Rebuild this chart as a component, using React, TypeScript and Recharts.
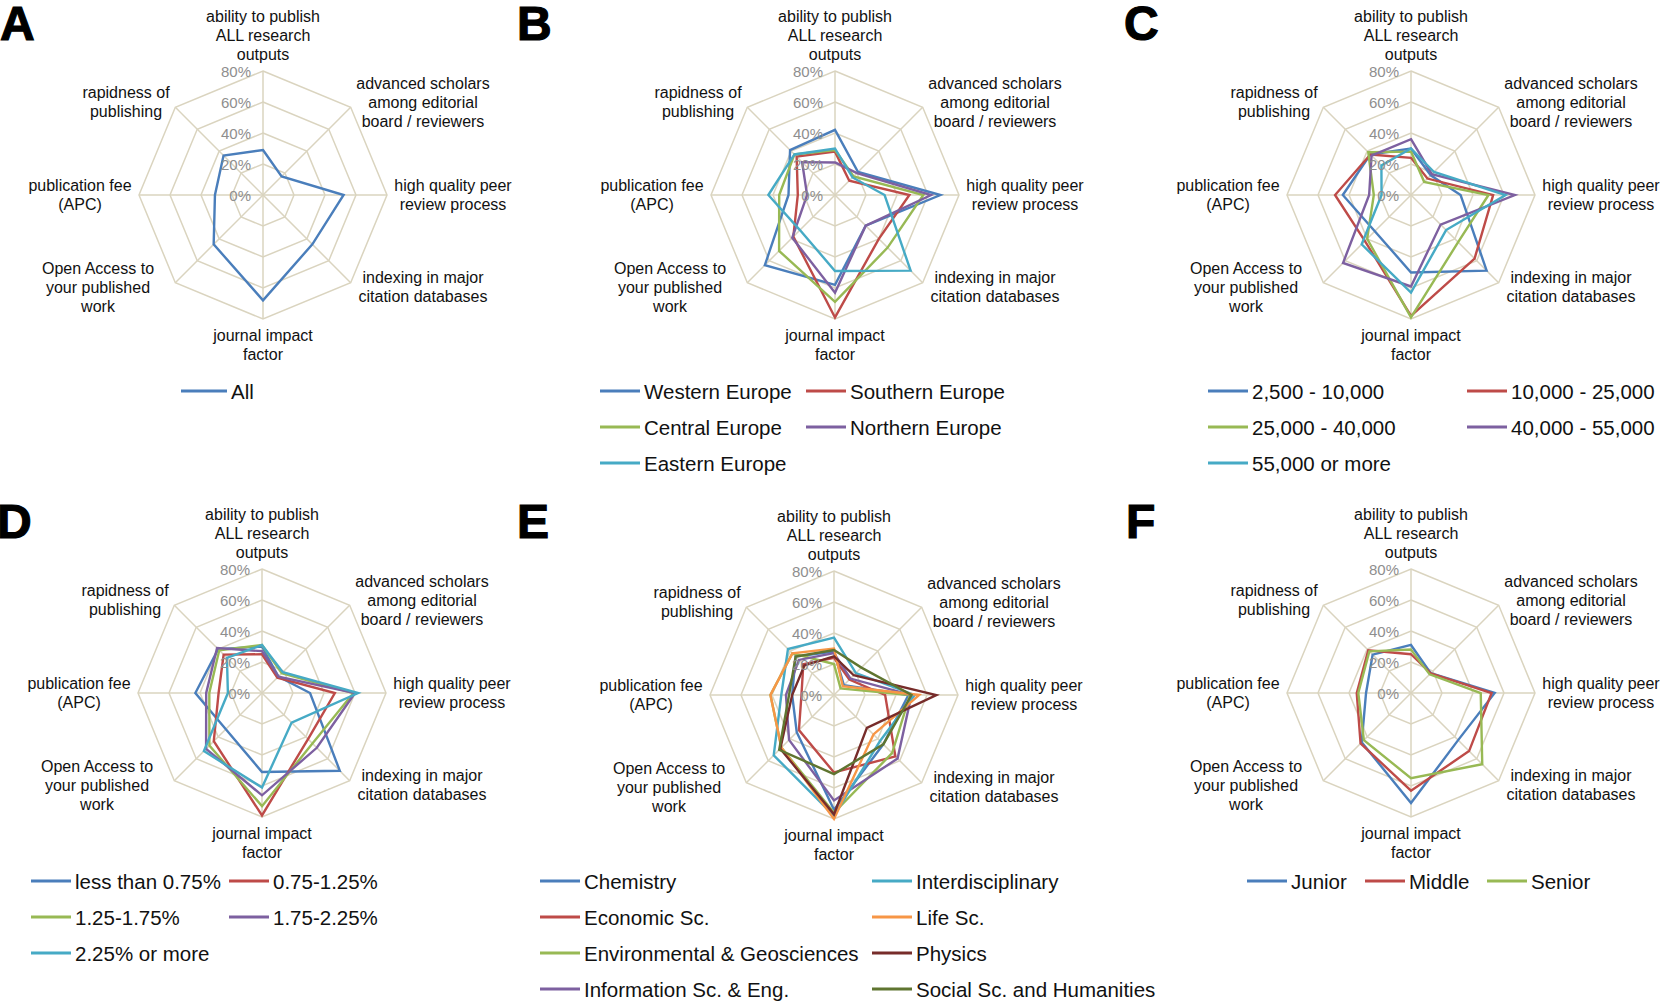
import React from 'react';
import {
    RadarChart,
    Radar,
    PolarGrid,
    PolarAngleAxis,
    PolarRadiusAxis,
} from 'recharts';

// axis order: clockwise from the top
const categories = [
    'ability to publish ALL research outputs',
    'advanced scholars among editorial board / reviewers',
    'high quality peer review process',
    'indexing in major citation databases',
    'journal impact factor',
    'Open Access to your published work',
    'publication fee (APC)',
    'rapidness of publishing',
];

const categoryLines = [
    ['ability to publish', 'ALL research', 'outputs'],
    ['advanced scholars', 'among editorial', 'board / reviewers'],
    ['high quality peer', 'review process'],
    ['indexing in major', 'citation databases'],
    ['journal impact', 'factor'],
    ['Open Access to', 'your published', 'work'],
    ['publication fee', '(APC)'],
    ['rapidness of', 'publishing'],
];

const radiusTicks = [0, 20, 40, 60, 80];

// A - all respondents
const allRespondents = [29, 17, 52, 45, 68, 45, 31, 36];

// B - region
const westernEurope = [42, 21, 68, 28, 58, 64, 30, 41];
const southernEurope = [28, 13, 48, 40, 79, 38, 24, 35];
const centralEurope = [29, 17, 57, 48, 69, 51, 36, 37];
const northernEurope = [21, 20, 62, 28, 63, 39, 18, 30];
const easternEurope = [30, 16, 32, 69, 49, 32, 43, 37];

// C - GDP per capita
const gdp2500 = [30, 18, 32, 69, 50, 33, 44, 37];
const gdp10000 = [24, 15, 53, 58, 78, 42, 49, 37];
const gdp25000 = [28, 12, 50, 43, 79, 40, 24, 39];
const gdp40000 = [36, 19, 67, 27, 59, 62, 27, 36];
const gdp55000 = [30, 21, 61, 32, 63, 45, 19, 27];

// D - R&D expenditure
const rdLess075 = [30, 15, 31, 71, 51, 33, 43, 40];
const rd075 = [25, 14, 47, 42, 79, 44, 28, 35];
const rd125 = [31, 18, 59, 46, 73, 48, 34, 39];
const rd175 = [27, 15, 60, 50, 66, 51, 36, 41];
const rd225 = [31, 19, 62, 27, 61, 53, 22, 32];

// E - discipline
const chemistry = [28, 9, 48, 45, 74, 34, 27, 35];
const economicSc = [24, 14, 33, 56, 50, 32, 21, 28];
const environmental = [20, 6, 49, 53, 76, 48, 41, 38];
const informationSc = [27, 15, 50, 58, 68, 41, 31, 32];
const interdisciplinary = [37, 20, 52, 42, 78, 55, 34, 42];
const lifeSc = [30, 8, 55, 36, 80, 48, 41, 38];
const physics = [25, 18, 66, 30, 77, 49, 27, 27];
const socialSc = [29, 25, 50, 45, 51, 50, 29, 35];

// F - career stage
const junior = [31, 18, 54, 43, 71, 45, 29, 35];
const middle = [25, 18, 52, 53, 63, 46, 35, 39];
const senior = [28, 17, 45, 65, 55, 43, 34, 38];

const BLUE = '#4A7EBB';
const RED = '#BE4B48';
const GREEN = '#98B954';
const PURPLE = '#7D60A0';
const CYAN = '#46AAC5';
const ORANGE = '#F79646';
const DARK_RED = '#772C2A';
const DARK_GREEN = '#5F7530';
const GRID = '#DAD4BF';
const FONT = '"Liberation Sans", Arial, sans-serif';

interface Series {
    name: string;
    values: number[];
    color: string;
    lx: number; // legend line start
    ly: number; // legend row middle
}

interface Panel {
    letter: string;
    letterX: number;
    letterY: number;
    centerX: number;
    centerY: number;
    lineLen: number;
    series: Series[];
}

const panels: Panel[] = [
    {
        letter: 'A', letterX: 0, letterY: 40, centerX: 263, centerY: 195, lineLen: 46,
        series: [
            { name: 'All', values: allRespondents, color: BLUE, lx: 181, ly: 391 },
        ],
    },
    {
        letter: 'B', letterX: 517, letterY: 40, centerX: 835, centerY: 195, lineLen: 40,
        series: [
            { name: 'Western Europe', values: westernEurope, color: BLUE, lx: 600, ly: 391 },
            { name: 'Southern Europe', values: southernEurope, color: RED, lx: 806, ly: 391 },
            { name: 'Central Europe', values: centralEurope, color: GREEN, lx: 600, ly: 427 },
            { name: 'Northern Europe', values: northernEurope, color: PURPLE, lx: 806, ly: 427 },
            { name: 'Eastern Europe', values: easternEurope, color: CYAN, lx: 600, ly: 463 },
        ],
    },
    {
        letter: 'C', letterX: 1124, letterY: 40, centerX: 1411, centerY: 195, lineLen: 40,
        series: [
            { name: '2,500 - 10,000', values: gdp2500, color: BLUE, lx: 1208, ly: 391 },
            { name: '10,000 - 25,000', values: gdp10000, color: RED, lx: 1467, ly: 391 },
            { name: '25,000 - 40,000', values: gdp25000, color: GREEN, lx: 1208, ly: 427 },
            { name: '40,000 - 55,000', values: gdp40000, color: PURPLE, lx: 1467, ly: 427 },
            { name: '55,000 or more', values: gdp55000, color: CYAN, lx: 1208, ly: 463 },
        ],
    },
    {
        letter: 'D', letterX: -3, letterY: 538, centerX: 262, centerY: 693, lineLen: 40,
        series: [
            { name: 'less than 0.75%', values: rdLess075, color: BLUE, lx: 31, ly: 881 },
            { name: '0.75-1.25%', values: rd075, color: RED, lx: 229, ly: 881 },
            { name: '1.25-1.75%', values: rd125, color: GREEN, lx: 31, ly: 917 },
            { name: '1.75-2.25%', values: rd175, color: PURPLE, lx: 229, ly: 917 },
            { name: '2.25% or more', values: rd225, color: CYAN, lx: 31, ly: 953 },
        ],
    },
    {
        letter: 'E', letterX: 517, letterY: 538, centerX: 834, centerY: 695, lineLen: 40,
        series: [
            { name: 'Chemistry', values: chemistry, color: BLUE, lx: 540, ly: 881 },
            { name: 'Economic Sc.', values: economicSc, color: RED, lx: 540, ly: 917 },
            { name: 'Environmental & Geosciences', values: environmental, color: GREEN, lx: 540, ly: 953 },
            { name: 'Information Sc. & Eng.', values: informationSc, color: PURPLE, lx: 540, ly: 989 },
            { name: 'Interdisciplinary', values: interdisciplinary, color: CYAN, lx: 872, ly: 881 },
            { name: 'Life Sc.', values: lifeSc, color: ORANGE, lx: 872, ly: 917 },
            { name: 'Physics', values: physics, color: DARK_RED, lx: 872, ly: 953 },
            { name: 'Social Sc. and Humanities', values: socialSc, color: DARK_GREEN, lx: 872, ly: 989 },
        ],
    },
    {
        letter: 'F', letterX: 1126, letterY: 538, centerX: 1411, centerY: 693, lineLen: 40,
        series: [
            { name: 'Junior', values: junior, color: BLUE, lx: 1247, ly: 881 },
            { name: 'Middle', values: middle, color: RED, lx: 1365, ly: 881 },
            { name: 'Senior', values: senior, color: GREEN, lx: 1487, ly: 881 },
        ],
    },
];

// chart box, same for every panel
const BOX_W = 520;
const BOX_H = 400;
const CX = 250;
const CY = 200;
const RADIUS = 124;

// where each multi-line category label sits, relative to the centre
const labelOffsets = [
    { dx: 0, dy: -179 },
    { dx: 160, dy: -112 },
    { dx: 190, dy: -10 },
    { dx: 160, dy: 82 },
    { dx: 0, dy: 140 },
    { dx: -165, dy: 73 },
    { dx: -183, dy: -10 },
    { dx: -137, dy: -103 },
];
const LINE_H = 19;

function AngleTick(props: any) {
    const idx = categories.indexOf(props.payload?.value);
    if (idx < 0) return null;
    const off = labelOffsets[idx];
    return (
        <g>
            {categoryLines[idx].map((line, i) => (
                <text
                    key={i}
                    x={CX + off.dx}
                    y={CY + off.dy + i * LINE_H}
                    textAnchor="middle"
                    dominantBaseline="central"
                    fontSize={16}
                    fontFamily={FONT}
                    fill="#111"
                >
                    {line}
                </text>
            ))}
        </g>
    );
}

function RadiusTick(props: any) {
    const { x, y, payload } = props;
    return (
        <text
            x={x - 12}
            y={y}
            textAnchor="end"
            dominantBaseline="central"
            fontSize={15}
            fontFamily={FONT}
            fill="#8E8E8E"
        >
            {payload.value}%
        </text>
    );
}

function PanelChart({ panel }: { panel: Panel }) {
    const data = categories.map((c, i) => {
        const row: Record<string, string | number> = { axis: c };
        panel.series.forEach((s, k) => {
            row[`s${k}`] = s.values[i];
        });
        return row;
    });

    return (
        <div
            style={{
                position: 'absolute',
                left: panel.centerX - CX,
                top: panel.centerY - CY,
                width: BOX_W,
                height: BOX_H,
            }}
        >
            <RadarChart
                width={BOX_W}
                height={BOX_H}
                cx={CX}
                cy={CY}
                outerRadius={RADIUS}
                data={data}
                startAngle={90}
                endAngle={-270}
                margin={{ top: 0, right: 0, bottom: 0, left: 0 }}
                style={{ overflow: 'visible' }}
            >
                <PolarGrid gridType="polygon" stroke={GRID} strokeWidth={1.5} />
                <PolarAngleAxis
                    dataKey="axis"
                    tick={<AngleTick />}
                    tickLine={false}
                    axisLine={false}
                />
                <PolarRadiusAxis
                    angle={90}
                    type="number"
                    domain={[0, 80]}
                    ticks={radiusTicks}
                    tickCount={5}
                    axisLine={false}
                    tickLine={false}
                    tick={<RadiusTick />}
                />
                {panel.series.map((s, k) => (
                    <Radar
                        key={s.name}
                        name={s.name}
                        dataKey={`s${k}`}
                        stroke={s.color}
                        strokeWidth={2.4}
                        fill="none"
                        fillOpacity={0}
                        dot={false}
                        isAnimationActive={false}
                    />
                ))}
            </RadarChart>
        </div>
    );
}

export default function App() {
    return (
        <div
            style={{
                position: 'absolute',
                left: 0,
                top: 0,
                width: 1665,
                height: 1001,
                overflow: 'hidden',
                background: '#fff',
                fontFamily: FONT,
            }}
        >
            {panels.map((p) => (
                <PanelChart key={p.letter} panel={p} />
            ))}
            <svg
                width={1665}
                height={1001}
                style={{ position: 'absolute', left: 0, top: 0, pointerEvents: 'none' }}
            >
                {panels.map((p) => (
                    <g key={p.letter}>
                        <text
                            x={p.letterX}
                            y={p.letterY}
                            fontSize={48}
                            fontWeight="bold"
                            fontFamily={FONT}
                            fill="#000"
                            stroke="#000"
                            strokeWidth={1.2}
                        >
                            {p.letter}
                        </text>
                        {p.series.map((s) => (
                            <g key={s.name}>
                                <line x1={s.lx} x2={s.lx + p.lineLen} y1={s.ly} y2={s.ly} stroke={s.color} strokeWidth={3} />
                                <text
                                    x={s.lx + p.lineLen + 4}
                                    y={s.ly}
                                    dominantBaseline="central"
                                    fontSize={20.5}
                                    fontFamily={FONT}
                                    fill="#111"
                                >
                                    {s.name}
                                </text>
                            </g>
                        ))}
                    </g>
                ))}
            </svg>
        </div>
    );
}
